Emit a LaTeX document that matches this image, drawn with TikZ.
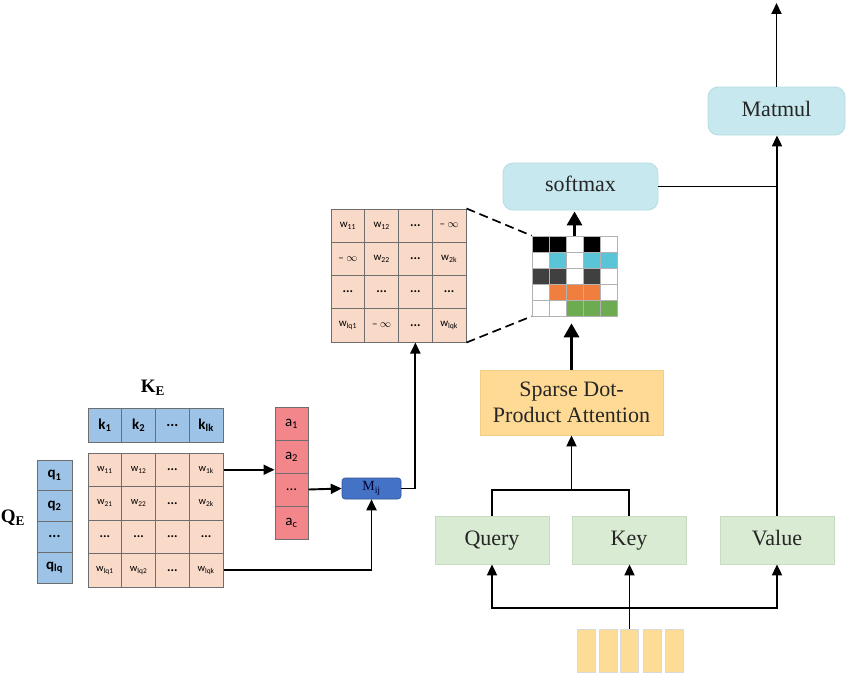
\documentclass[tikz,border=0pt]{standalone}
\usepackage{fontspec}
\setmainfont{Liberation Serif}
\newfontfamily\calfont{Carlito}
\usetikzlibrary{arrows.meta}
\definecolor{peach}{HTML}{F9D9C8}
\definecolor{kblue}{HTML}{9DC3E6}
\definecolor{ared}{HTML}{F3868B}
\definecolor{mblue}{HTML}{4472C4}
\definecolor{mborder}{HTML}{2F5597}
\definecolor{cyanbox}{HTML}{C7E8EE}
\definecolor{cyanborder}{HTML}{B4DCE3}
\definecolor{greenbox}{HTML}{DAEBD4}
\definecolor{greenborder}{HTML}{C6DCBF}
\definecolor{orangebox}{HTML}{FFDA95}
\definecolor{orangeborder}{HTML}{F2CD86}
\definecolor{barfill}{HTML}{FDDD96}
\definecolor{cellborder}{HTML}{6E6E6E}
\definecolor{gK}{HTML}{000000}
\definecolor{gW}{HTML}{FFFFFF}
\definecolor{gC}{HTML}{5BC5D8}
\definecolor{gD}{HTML}{404040}
\definecolor{gO}{HTML}{F07E3E}
\definecolor{gG}{HTML}{6CAB4F}
\newcommand{\dts}{{\fontsize{13}{14}\selectfont\bfseries ...}}
\newcommand{\minf}{\textendash\ $\infty$}
\begin{document}
\begin{tikzpicture}[x=1pt,y=-1pt,
  pcell/.style={rectangle,draw=cellborder,line width=1pt,fill=peach,inner sep=0pt,
    minimum width=33.75pt,minimum height=33.5pt,font=\calfont\fontsize{10.5}{12}\selectfont},
  tcell/.style={pcell,minimum height=33.25pt,font=\calfont\fontsize{11}{12}\selectfont},
  kcell/.style={rectangle,draw=cellborder,line width=1pt,fill=kblue,inner sep=0pt,
    minimum width=33.75pt,minimum height=34pt,font=\calfont\bfseries\fontsize{15}{17}\selectfont},
  qcell/.style={kcell,minimum width=35pt,minimum height=30.75pt},
  acell/.style={rectangle,draw=cellborder,line width=1pt,fill=ared,inner sep=0pt,
    minimum width=33pt,minimum height=33pt,font=\calfont\fontsize{15}{17}\selectfont},
  gcell/.style={rectangle,draw=gray!60,line width=0.6pt,inner sep=0pt,
    minimum width=17pt,minimum height=16pt},
  roundbox/.style={rectangle,rounded corners=10pt,fill=cyanbox,draw=cyanborder,line width=0.8pt,
    font=\fontsize{22}{26}\selectfont,text=black!85,text height=15pt,text depth=5pt},
  qkvbox/.style={rectangle,fill=greenbox,draw=greenborder,line width=0.8pt,
    minimum width=114pt,minimum height=48pt,font=\fontsize{22}{26}\selectfont,text=black!85,
    text height=15pt,text depth=5pt},
  barbox/.style={rectangle,fill=barfill,draw=gray!30,line width=0.8pt,
    minimum width=18pt,minimum height=43pt,inner sep=0pt},
  arr/.style={line width=1.9pt,-{Triangle[length=11pt,width=10pt]}},
  plain/.style={line width=1.9pt},
  thickarr/.style={line width=3.2pt,-{Triangle[length=14pt,width=15pt]}},
  dashline/.style={line width=1.7pt,dash pattern=on 9pt off 5pt}
]
\useasboundingbox (0,0) rectangle (850,677);

% ---------- labels ----------
\node[font=\bfseries\fontsize{19}{22}\selectfont] (ke) at (153,388) {K\textsubscript{E}};
\node[font=\bfseries\fontsize{19}{22}\selectfont] (qe) at (13,518) {Q\textsubscript{E}};

% ---------- K row ----------
\foreach \c/\t in {1/{k\textsubscript{1}},2/{k\textsubscript{2}},3/{...},4/{k\textsubscript{lk}}}
  \node[kcell] (k-\c) at ({88+33.75*(\c-0.5)},425) {\t};

% ---------- Q column ----------
\foreach \r/\t in {1/{q\textsubscript{1}},2/{q\textsubscript{2}},3/{...},4/{q\textsubscript{lq}}}
  \node[qcell] (q-\r) at (54.5,{460+30.75*(\r-0.5)}) {\t};

% ---------- left W matrix ----------
\foreach \r/\c/\t in {
  1/1/{w\textsubscript{11}},1/2/{w\textsubscript{12}},1/3/{\dts},1/4/{w\textsubscript{1k}},
  2/1/{w\textsubscript{21}},2/2/{w\textsubscript{22}},2/3/{\dts},2/4/{w\textsubscript{2k}},
  3/1/{\dts},3/2/{\dts},3/3/{\dts},3/4/{\dts},
  4/1/{w\textsubscript{lq1}},4/2/{w\textsubscript{lq2}},4/3/{\dts},4/4/{w\textsubscript{lqk}}}
  \node[pcell] (w-\r-\c) at ({88+33.75*(\c-0.5)},{453+33.5*(\r-0.5)}) {\t};

% ---------- a vector ----------
\foreach \r/\t in {1/{a\textsubscript{1}},2/{a\textsubscript{2}},3/{...},4/{a\textsubscript{c}}}
  \node[acell] (a-\r) at (291.5,{407+33*(\r-0.5)}) {\t};

% ---------- Mij ----------
\node[rectangle,rounded corners=3pt,fill=mblue,draw=mborder,line width=0.6pt,
  minimum width=59pt,minimum height=21pt,inner sep=0pt,text=black!80!blue,
  font=\fontsize{14}{16}\selectfont] (mij) at (371.5,488.5) {M\textsubscript{ij}};

% ---------- top W matrix ----------
\foreach \r/\c/\t in {
  1/1/{w\textsubscript{11}},1/2/{w\textsubscript{12}},1/3/{\dts},1/4/{\minf},
  2/1/{\minf},2/2/{w\textsubscript{22}},2/3/{\dts},2/4/{w\textsubscript{2k}},
  3/1/{\dts},3/2/{\dts},3/3/{\dts},3/4/{\dts},
  4/1/{w\textsubscript{lq1}},4/2/{\minf},4/3/{\dts},4/4/{w\textsubscript{lqk}}}
  \node[tcell] (t-\r-\c) at ({331+33.75*(\c-0.5)},{209+33.25*(\r-0.5)}) {\t};

% ---------- sparse grid ----------
\foreach \r/\lst in {1/{gK,gK,gW,gK,gW},2/{gW,gC,gW,gC,gC},3/{gD,gD,gW,gD,gW},
                     4/{gW,gO,gO,gO,gW},5/{gW,gW,gG,gG,gG}}{
  \foreach \col [count=\c] in \lst {
    \node[gcell,fill=\col] (g-\r-\c) at ({532+17*(\c-0.5)},{236+16*(\r-0.5)}) {};
  }
}

% ---------- right column boxes ----------
\node[roundbox,minimum width=155pt,minimum height=47pt] (softmax) at (580.5,186.5) {softmax};
\node[roundbox,minimum width=137pt,minimum height=48pt] (matmul) at (776.5,111) {Matmul};
\node[rectangle,fill=orangebox,draw=orangeborder,line width=0.8pt,minimum width=183pt,
  minimum height=65pt,align=center,font=\fontsize{22}{26}\selectfont,text=black!85]
  (sparse) at (571.5,402.5) {Sparse Dot-\\Product Attention};
\node[qkvbox] (query) at (492,540) {Query};
\node[qkvbox] (key) at (629,540) {Key};
\node[qkvbox] (value) at (777,540) {Value};

% ---------- input bars ----------
\foreach \i/\x in {1/586,2/608,3/629.5,4/652,5/674.5}
  \node[barbox] (bar\i) at (\x,650.5) {};

% ---------- connectors ----------
\coordinate (split) at (629.5,608);
\coordinate (qk) at (571.5,490);
\coordinate (out) at (776.5,3);

\draw[plain] (bar3.north) -- (split);
\draw[arr] (split) -| (query.south);
\draw[arr] (split) -| (value.south);
\draw[arr] (split) -- (split |- key.south);

\draw[plain] (query.north) |- (qk) -| (key.north);
\draw[arr] (qk) -- (sparse.south);

\draw[thickarr,shorten >=7pt] (sparse.north) -- (sparse.north |- g-5-3.south);
\draw[thickarr,shorten >=1pt] (g-1-3.north) -- (g-1-3.north |- softmax.south);

\draw[plain] (softmax.east) -- (softmax.east -| matmul.south);
\draw[arr] (value.north) -- (value.north |- matmul.south);
\draw[arr] (matmul.north) -- (out);

\draw[arr] (w-1-4.east) -- (w-1-4.east -| a-1.west);
\draw[arr] (w-4-4.east) -| (mij.south);
\draw[arr] (a-3.east) -- (mij.west);
\draw[arr] (mij.east) -| (t-4-3.south);

\draw[dashline] (t-1-4.north east) -- (g-1-1.north west);
\draw[dashline] (t-4-4.south east) -- (g-5-1.south west);
\end{tikzpicture}
\end{document}
